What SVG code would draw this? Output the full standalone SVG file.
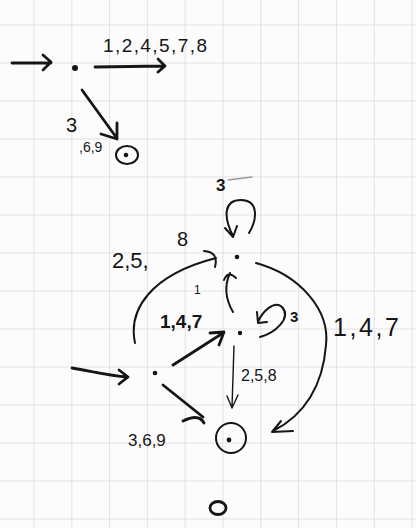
<svg xmlns="http://www.w3.org/2000/svg" width="416" height="528" viewBox="0 0 416 528">
<defs>
<style>
.ln{fill:none;stroke:#151515;stroke-width:2.8;stroke-linecap:round;stroke-linejoin:round}
.md{stroke-width:2}
.th{stroke-width:1.4}
.dot{fill:#151515}
.grid{stroke:#e2e2e2;stroke-width:1}
.lbl{font-family:"Liberation Sans",sans-serif;fill:#151515}
</style>
</defs>
<rect width="416" height="528" fill="#fcfcfc"/>
<g id="grid" class="grid">
<line x1="34" y1="0" x2="34" y2="528"/><line x1="71.8" y1="0" x2="71.8" y2="528"/><line x1="109.6" y1="0" x2="109.6" y2="528"/><line x1="147.4" y1="0" x2="147.4" y2="528"/><line x1="185.2" y1="0" x2="185.2" y2="528"/><line x1="223" y1="0" x2="223" y2="528"/><line x1="260.8" y1="0" x2="260.8" y2="528"/><line x1="298.6" y1="0" x2="298.6" y2="528"/><line x1="336.4" y1="0" x2="336.4" y2="528"/><line x1="374.2" y1="0" x2="374.2" y2="528"/><line x1="412" y1="0" x2="412" y2="528"/>
<line x1="0" y1="25" x2="416" y2="25"/><line x1="0" y1="63" x2="416" y2="63"/><line x1="0" y1="101" x2="416" y2="101"/><line x1="0" y1="139" x2="416" y2="139"/><line x1="0" y1="177" x2="416" y2="177"/><line x1="0" y1="215" x2="416" y2="215"/><line x1="0" y1="253" x2="416" y2="253"/><line x1="0" y1="291" x2="416" y2="291"/><line x1="0" y1="329" x2="416" y2="329"/><line x1="0" y1="367" x2="416" y2="367"/><line x1="0" y1="405" x2="416" y2="405"/><line x1="0" y1="443" x2="416" y2="443"/><line x1="0" y1="481" x2="416" y2="481"/><line x1="0" y1="519" x2="416" y2="519"/>
</g>
<g id="top-q0"><circle class="dot" cx="75" cy="68" r="3"/></g>
<g id="top-accept"><ellipse class="ln md" cx="127" cy="155" rx="11" ry="9"/><circle class="dot" cx="126" cy="155" r="2.3"/></g>
<g id="low-top"><circle class="dot" cx="237" cy="257" r="2.3"/></g>
<g id="low-mid"><circle class="dot" cx="240" cy="333" r="2.2"/></g>
<g id="low-start"><circle class="dot" cx="155" cy="373" r="2.3"/></g>
<g id="low-accept"><ellipse class="ln md" cx="231" cy="438" rx="15" ry="15"/><circle class="dot" cx="229" cy="440" r="2.4"/></g>
<g id="bottom-o"><ellipse class="ln" cx="218" cy="508" rx="8" ry="6.5"/></g>
<g id="connectors">
<path class="ln" d="M12,63 L51,63 M43,55 L51,62 L43,70"/>
<path class="ln" d="M95,67 L164,66 M158,59 L165,66 L158,72"/>
<path class="ln" d="M82,90 L116,137 M101,134 L117,139 L117,123"/>
<path class="ln md" d="M249,233 C258,218 258,200 241,200 C224,200 223,216 233,236 M225,228 L233,237 L237,226"/>
<path class="ln md" d="M135,343 C128,310 150,275 216,258 M204,251 Q219,252 215,267"/>
<path class="ln md" d="M233,312 C226,300 224,286 230,273 M224,280 Q228,270 236,278"/>
<path class="ln md" d="M260,337 C275,333 292,318 282,307 C274,300 262,312 258,322 M257,312 L258,323 L267,322"/>
<path class="ln" d="M72,368 C95,372 110,376 127,377 M119,370 L128,377 L119,384"/>
<path class="ln" d="M173,365 L223,333 M210,333 L224,332 L219,345"/>
<path class="ln" d="M163,385 L203,417 M183,421 Q199,413 204,423"/>
<path class="ln th" d="M234,346 L232,407 M227,396 L232,408 L238,395"/>
<path class="ln md" d="M256,263 C300,275 330,310 326,345 C323,385 305,415 273,431 M281,421 L272,432 L293,431"/>
<path fill="none" stroke="#9a9a9a" stroke-width="1.4" stroke-linecap="round" d="M228,180 L252,177"/>
</g>
<g id="labels" class="lbl">
<text x="103" y="52" font-size="19" textLength="104">1,2,4,5,7,8</text>
<text x="66" y="132" font-size="20">3<tspan x="79" y="152" font-size="14">,6,9</tspan></text>
<text x="216" y="191" font-size="17" font-weight="bold">3</text>
<text x="112" y="268" font-size="22">2,5,</text>
<text x="177" y="246" font-size="20">8</text>
<text x="194" y="294" font-size="12">1</text>
<text x="160" y="328" font-size="19" font-weight="bold">1,4,7</text>
<text x="290" y="322" font-size="15" font-weight="bold">3</text>
<text x="241" y="381" font-size="16">2,5,8</text>
<text x="128" y="446" font-size="17">3,6,9</text>
<text x="333" y="336" font-size="25" textLength="66">1,4,7</text>
</g>
</svg>
